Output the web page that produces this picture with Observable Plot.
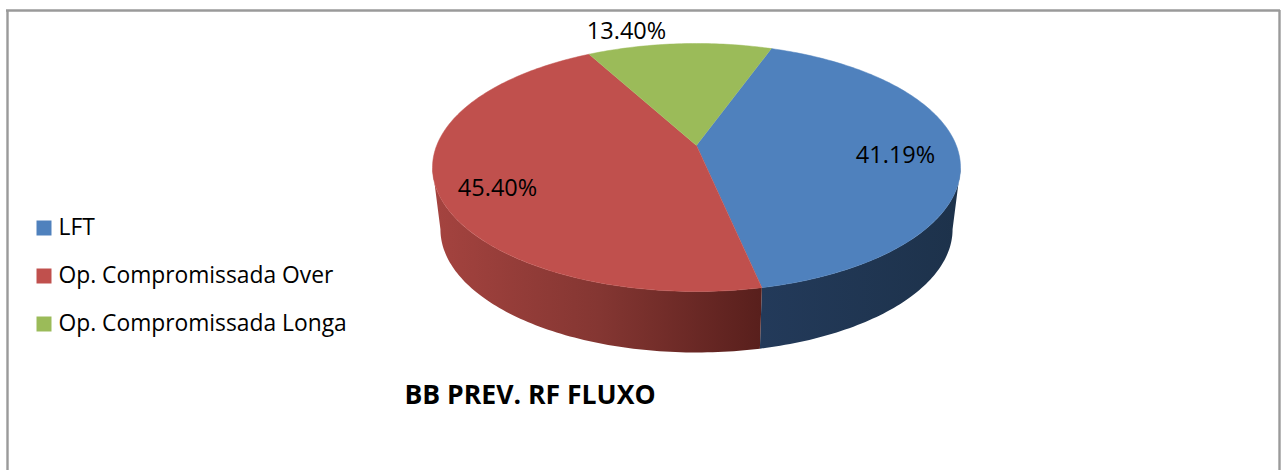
<!DOCTYPE html>
<html>
<head>
<meta charset="utf-8">
<script src="https://cdn.jsdelivr.net/npm/d3@7"></script>
<script src="https://cdn.jsdelivr.net/npm/@observablehq/plot@0.6"></script>
<style>html,body{margin:0;padding:0;background:#fff;overflow:hidden}svg{display:block}</style>
</head>
<body>
<div id="chart"></div>
<script>
// ---- data
const categories = ["LFT", "Op. Compromissada Over", "Op. Compromissada Longa"];
const shares = [41.19, 45.40, 13.40];
const valueLabels = ["41.19%", "45.40%", "13.40%"];
const chartTitle = "BB PREV. RF FLUXO";

// ---- styling and layout
const colors = ["#4F81BD", "#C0504D", "#9BBB59"];
const FONT = "'Open Sans'";
const startAngle = 19.7;                 // degrees clockwise from the back of the pie
const pie = {cx: 696, apexY: 145, rx: 259.8, ry: 120.1, k: 0.1774};
const rim = {depth: 62, sx: 0.97, sy: 0.993};
const labelAt = [[895, 155], [497, 188], [626, 31]];

// perspective projection of a pie angle (degrees) and radius onto the top face
function faceXY(deg, r = 1) {
  const a = deg * Math.PI / 180, u = r * Math.sin(a), v = r * Math.cos(a), w = 1 + pie.k * v;
  return {x: pie.cx + pie.rx * u / w, y: pie.apexY - pie.ry * v / w};
}
function baseXY(deg) {
  const a = deg * Math.PI / 180, u = Math.sin(a), v = Math.cos(a), w = 1 + pie.k * v;
  return {x: pie.cx + rim.sx * pie.rx * u / w, y: pie.apexY + rim.depth - rim.sy * pie.ry * v / w};
}

// slices from the values
const total = d3.sum(shares);
let running = startAngle;
const slices = categories.map((category, i) => {
  const a0 = running, a1 = running + shares[i] / total * 360;
  running = a1;
  return {category, a0, a1, i};
});
const faceRows = slices.flatMap(s => {
  const n = Math.ceil(s.a1 - s.a0), rows = [{...faceXY(0, 0), category: s.category}];
  for (let j = 0; j <= n; j++) rows.push({...faceXY(s.a0 + (s.a1 - s.a0) * j / n), category: s.category});
  return rows;
});

// visible rim: from the right silhouette to the left silhouette, split at the LFT / Over boundary
const silhouette = Math.acos(-pie.k) * 180 / Math.PI;
const rimRows = (from, to, id) => {
  const n = Math.ceil(to - from), rows = [];
  for (let j = 0; j <= n; j++) rows.push({...faceXY(from + (to - from) * j / n), id});
  for (let j = n; j >= 0; j--) rows.push({...baseXY(from + (to - from) * j / n), id});
  return rows;
};
const blueRim = rimRows(silhouette, slices[0].a1, "blue");
const redRim = rimRows(slices[0].a1, 360 - silhouette, "red");

function gradients() {
  const ns = "http://www.w3.org/2000/svg", defs = document.createElementNS(ns, "defs");
  const make = (id, x1, x2, stops) => {
    const g = document.createElementNS(ns, "linearGradient");
    g.setAttribute("id", id); g.setAttribute("gradientUnits", "userSpaceOnUse");
    g.setAttribute("x1", x1); g.setAttribute("x2", x2); g.setAttribute("y1", 0); g.setAttribute("y2", 0);
    stops.forEach(([o, c]) => {
      const s = document.createElementNS(ns, "stop");
      s.setAttribute("offset", o); s.setAttribute("stop-color", c); g.appendChild(s);
    });
    defs.appendChild(g);
  };
  make("rimRed", 436, 762, [[0, "#A4433F"], [0.5, "#843632"], [1, "#581F1C"]]);
  make("rimBlue", 760, 955, [[0, "#233A5A"], [1, "#1D324B"]]);
  return defs;
}

const legendRows = categories.map((category, i) => ({category, row: i}));
const legendY = d3.scaleLinear().domain([0, 2]).range([227.5, 323.5]);

const chart = Plot.plot({
  width: 1282, height: 470, margin: 0,
  x: {domain: [0, 1282], range: [0, 1282], axis: null},
  y: {domain: [0, 470], range: [0, 470], axis: null},
  color: {domain: categories, range: colors},
  style: {background: "#fff"},
  marks: [
    gradients,
    // chart frame (open at the bottom, cut off by the page)
    Plot.ruleX([7, 1279], {y1: 10, y2: 470, stroke: "#9a9a9a", strokeWidth: 2.4}),
    Plot.ruleY([10], {x1: 6, x2: 1280, stroke: "#9a9a9a", strokeWidth: 2.4}),
    // rim
    Plot.line(blueRim, {x: "x", y: "y", z: "id", fill: "url(#rimBlue)", stroke: "none"}),
    Plot.line(redRim, {x: "x", y: "y", z: "id", fill: "url(#rimRed)", stroke: "none"}),
    // top face
    Plot.line(faceRows, {x: "x", y: "y", z: "category", fill: "category", stroke: "category", strokeWidth: 0.5}),
    // value labels
    Plot.text(slices, {
      x: (d, i) => labelAt[i][0], y: (d, i) => labelAt[i][1],
      text: (d, i) => valueLabels[i], fontFamily: FONT, fontSize: 23.5, fill: "#000"
    }),
    // legend
    Plot.dot(legendRows, {x: () => 43.5, y: d => legendY(d.row), symbol: "square", r: 8.46, fill: "category", stroke: "none"}),
    Plot.text(legendRows, {x: () => 58, y: d => legendY(d.row), text: "category", textAnchor: "start", fontFamily: FONT, fontSize: 22.8, fill: "#000"}),
    // title
    Plot.text([chartTitle], {x: () => 529.5, y: () => 395, text: d => d, fontFamily: FONT, fontWeight: "bold", fontSize: 26.6, fill: "#000"})
  ]
});
document.getElementById("chart").appendChild(chart);
</script>
</body>
</html>
